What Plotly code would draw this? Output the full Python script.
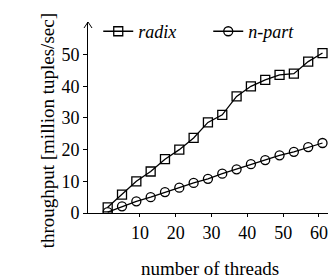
import plotly.graph_objects as go

threads = [1, 5, 9, 13, 17, 21, 25, 29, 33, 37, 41, 45, 49, 53, 57, 61]
radix = [1.8, 5.8, 10.0, 13.1, 17.0, 20.0, 23.7, 28.6, 31.0, 36.8, 40.0, 42.0, 43.6, 44.0, 47.8, 50.5]
npart = [0.3, 2.1, 3.7, 5.0, 6.6, 8.0, 9.5, 10.8, 12.4, 13.8, 15.4, 16.7, 18.2, 19.3, 20.8, 22.1]
x_ticks = [10, 20, 30, 40, 50, 60]
y_ticks = [0, 10, 20, 30, 40, 50]

FONT = "Liberation Serif"

fig = go.Figure()
fig.add_trace(go.Scatter(
    x=threads, y=radix, name="<i>radix</i>", mode="lines+markers",
    line=dict(color="black", width=1.3),
    marker=dict(symbol="square-open", size=9, color="black", line=dict(width=1.3)),
))
fig.add_trace(go.Scatter(
    x=threads, y=npart, name="<i>n-part</i>", mode="lines+markers",
    line=dict(color="black", width=1.3),
    marker=dict(symbol="circle-open", size=9, color="black", line=dict(width=1.3)),
))

# arrowhead on top of the y axis
for dx in (-4, 4):
    fig.add_shape(type="line", xref="paper", yref="paper",
                  xsizemode="pixel", ysizemode="pixel",
                  xanchor=0, yanchor=1,
                  x0=0, y0=0, x1=dx, y1=-6,
                  line=dict(color="black", width=1))

fig.add_annotation(text="throughput [million tuples/sec]", textangle=-90,
                   xref="paper", yref="paper", x=0, y=0.43, xshift=-53,
                   showarrow=False, font=dict(family=FONT, size=19))
fig.add_annotation(text="number of threads",
                   xref="paper", yref="paper", x=0.477, y=-0.355,
                   showarrow=False, font=dict(family=FONT, size=19))

fig.update_layout(
    width=336, height=278,
    margin=dict(l=80, r=0, t=14, b=73),
    paper_bgcolor="white", plot_bgcolor="white",
    font=dict(family=FONT, size=18, color="black"),
    showlegend=True,
    legend=dict(orientation="h", x=0.04, y=0.95, xanchor="left", yanchor="middle",
                bgcolor="rgba(0,0,0,0)", entrywidth=65, entrywidthmode="pixels",
                font=dict(family=FONT, size=18)),
    xaxis=dict(range=[-4.5, 67], tickvals=x_ticks, showline=True, linecolor="black",
               linewidth=1, ticks="outside", ticklen=3, tickcolor="black",
               showgrid=False, zeroline=False),
    yaxis=dict(range=[0, 60.3], tickvals=y_ticks, showline=True, linecolor="black",
               linewidth=1, ticks="outside", ticklen=4, tickcolor="black",
               showgrid=False, zeroline=False),
)

fig.write_html("out.html")
